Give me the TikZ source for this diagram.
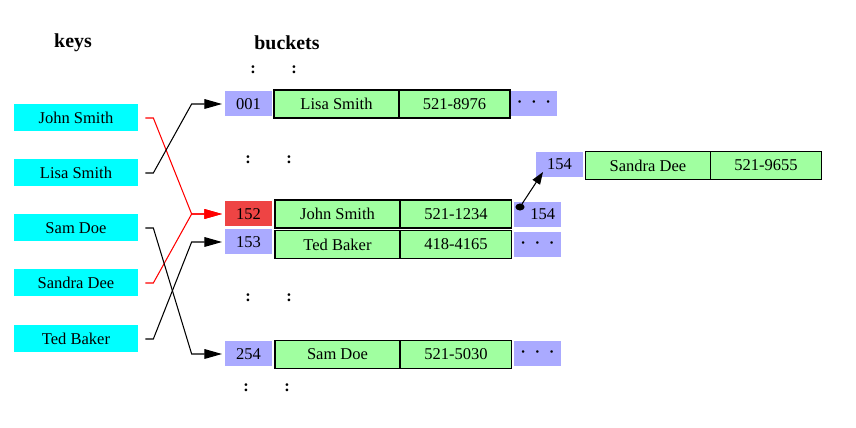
\documentclass[tikz,border=0pt]{standalone}
\usepackage{fontspec}
\setmainfont{Liberation Serif}
\usetikzlibrary{arrows.meta,calc}
\definecolor{keycyan}{HTML}{00FFFF}
\definecolor{slotblue}{HTML}{AAAAFF}
\definecolor{slotred}{HTML}{EE4444}
\definecolor{recgreen}{HTML}{A0FFA0}
\begin{document}
\begin{tikzpicture}[
   x=0.02cm, y=-0.02cm,
   font=\fontsize{9.4}{11}\selectfont,
   key/.style={fill=keycyan, minimum width=2.48cm, minimum height=0.54cm, inner sep=0pt},
   slot/.style={fill=slotblue, minimum width=0.94cm, minimum height=0.5cm, inner sep=0pt},
   namecell/.style={draw, fill=recgreen, line width=0.8pt, minimum width=2.5cm, minimum height=0.56cm, inner sep=0pt},
   numcell/.style={namecell, minimum width=2.22cm},
   title/.style={font=\fontsize{11.3}{13}\selectfont\bfseries},
   vdots/.style={font=\fontsize{9.4}{11}\selectfont\bfseries},
   more/.style={slot, font=\fontsize{6}{7}\selectfont},
   link/.style={line width=0.6pt, shorten <=4pt, shorten >=1.5pt, -{Triangle[length=10pt,width=5.5pt]}},
   hit/.style={link, draw=red}
]
\useasboundingbox (0,0) rectangle (856,428);

% Titles
\node[title] (keys) at (73,43) {keys};
\node[title] (buckets) at (287,43) {buckets};

% Keys
\node[key] (k1) at (76,118) {John Smith};
\node[key] (k2) at (76,173) {Lisa Smith};
\node[key] (k3) at (76,228) {Sam Doe};
\node[key] (k4) at (76,283) {Sandra Dee};
\node[key] (k5) at (76,339) {Ted Baker};

% Buckets
\node[vdots] (c1) at (253,70) {:};
\node[vdots] (c2) at (294,70) {:};

\node[slot] (b001) at (248.5,104) {001};
\node[namecell] (n001) at (336.5,104) {Lisa Smith};
\node[numcell] (p001) at (454.5,104) {521-8976};
\node[more] (m001) at (534,103.5) {\textbullet\hspace{6pt}\textbullet\hspace{6pt}\textbullet};

\node[vdots] (c3) at (248,160) {:};
\node[vdots] (c4) at (289,160) {:};

\node[slot, fill=slotred] (b152) at (248.5,214) {152};
\node[namecell] (n152) at (337.5,214) {John Smith};
\node[numcell] (p152) at (456,214) {521-1234};
\node[slot] (m152) at (537.5,214.5) {\hspace{6pt}154};

\node[slot] (b153) at (248.5,242) {153};
\node[namecell] (n153) at (337.5,244.5) {Ted Baker};
\node[numcell] (p153) at (456,244.5) {418-4165};
\node[more] (m153) at (537.5,244.5) {\textbullet\hspace{6pt}\textbullet\hspace{6pt}\textbullet};

\node[vdots] (c5) at (248,298) {:};
\node[vdots] (c6) at (289,298) {:};

\node[slot] (b254) at (248.5,354) {254};
\node[namecell] (n254) at (337.5,354.5) {Sam Doe};
\node[numcell] (p254) at (456,354.5) {521-5030};
\node[more] (m254) at (537.5,353.5) {\textbullet\hspace{6pt}\textbullet\hspace{6pt}\textbullet};

\node[vdots] (c7) at (246,388) {:};
\node[vdots] (c8) at (287,388) {:};

% Overflow entry
\node[slot] (b154) at (559.5,164.5) {154};
\node[namecell] (n154) at (648,165.5) {Sandra Dee};
\node[numcell] (p154) at (766,165.5) {521-9655};

% Hash links
\draw[hit] (k1.east) -- ++(15,0) -- ($(b152.west)+(-33,0)$) -- (b152.west);
\draw[hit] (k4.east) -- ++(15,0) -- ($(b152.west)+(-33,0)$) -- (b152.west);
\draw[link] (k2.east) -- ++(15,0) -- ($(b001.west)+(-33,0)$) -- (b001.west);
\draw[link] (k3.east) -- ++(15,0) -- ($(b254.west)+(-33,0)$) -- (b254.west);
\draw[link] (k5.east) -- ++(15,0) -- ($(b153.west)+(-33,0)$) -- (b153.west);

% Chain pointer
\coordinate (ptr) at (520,207);
\coordinate (tgt) at (543,172);
\fill (ptr) ellipse (2.6pt and 2pt);
\draw[line width=0.6pt, -{Triangle[length=7pt,width=5pt]}] (ptr) -- (tgt);

\end{tikzpicture}
\end{document}
